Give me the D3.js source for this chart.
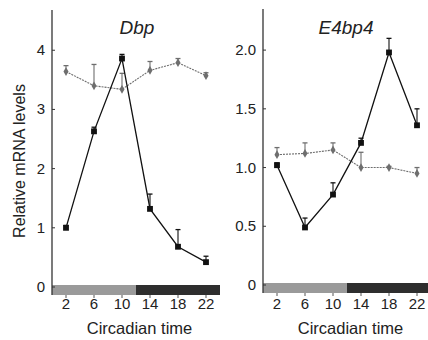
<!DOCTYPE html>
<html>
<head>
<meta charset="utf-8">
<script src="https://cdn.jsdelivr.net/npm/d3@7"></script>
<style>
  body { margin: 0; background: #fff; }
  svg { display: block; font-family: "Liberation Sans", Arial, sans-serif; }
</style>
</head>
<body>
<div id="chart"></div>
<script>
// circadian time points
var times = [2, 6, 10, 14, 18, 22];

// Dbp panel
var dbpTitle = "Dbp";
var dbpTicks = [0, 1, 2, 3, 4];
var dbpBlack = [1.0, 2.63, 3.86, 1.32, 0.68, 0.42];
var dbpBlackErr = [1.04, 2.70, 3.93, 1.57, 0.97, 0.52];
var dbpGrey = [3.64, 3.40, 3.34, 3.66, 3.79, 3.57];
var dbpGreyErr = [3.74, 3.76, 3.61, 3.81, 3.86, 3.62];

// E4bp4 panel
var e4Title = "E4bp4";
var e4Ticks = [0, 0.5, 1.0, 1.5, 2.0];
var e4TickLabels = ["0", "0.5", "1.0", "1.5", "2.0"];
var e4Black = [1.02, 0.49, 0.77, 1.21, 1.98, 1.36];
var e4BlackErr = [1.04, 0.57, 0.87, 1.25, 2.10, 1.50];
var e4Grey = [1.11, 1.12, 1.15, 1.00, 1.00, 0.95];
var e4GreyErr = [1.17, 1.21, 1.21, 1.13, 1.01, 1.00];

var xTicks = [2, 6, 10, 14, 18, 22];

var svg = d3.select("#chart").append("svg")
  .attr("width", 428)
  .attr("height", 340);

function panel(opt) {
  var x = d3.scaleLinear().domain([0, 24]).range([opt.left, opt.left + 168]);
  var y = d3.scaleLinear().domain([0, opt.top]).range([opt.zeroY, opt.topY]);
  var g = svg.append("g");

  // light/dark bar at zero
  var bars = [{ a: 0, b: 12, c: "#9a9a9a" }, { a: 12, b: 24, c: "#2e2e2e" }];
  g.selectAll("rect.ld").data(bars).enter().append("rect")
    .attr("class", "ld")
    .attr("x", function (d) { return x(d.a); })
    .attr("width", function (d) { return x(d.b) - x(d.a); })
    .attr("y", y(0) - 2)
    .attr("height", 10)
    .attr("fill", function (d) { return d.c; });

  // y axis line + ticks
  g.append("line")
    .attr("x1", x(0)).attr("x2", x(0))
    .attr("y1", y(opt.top)).attr("y2", y(0) + 8)
    .attr("stroke", "#333").attr("stroke-width", 1.3);
  g.selectAll("line.yt").data(opt.ticks).enter().append("line")
    .attr("class", "yt")
    .attr("x1", x(0)).attr("x2", x(0) + 3)
    .attr("y1", function (d) { return y(d); })
    .attr("y2", function (d) { return y(d); })
    .attr("stroke", "#333");
  g.selectAll("text.yl").data(opt.ticks).enter().append("text")
    .attr("class", "yl")
    .attr("x", x(0) - 7)
    .attr("y", function (d) { return y(d) + 5; })
    .attr("text-anchor", "end")
    .attr("font-size", 15)
    .attr("fill", "#222")
    .text(function (d, i) { return opt.labels ? opt.labels[i] : d; });

  // x ticks and labels
  g.selectAll("line.xt").data(xTicks).enter().append("line")
    .attr("class", "xt")
    .attr("x1", function (d) { return x(d); })
    .attr("x2", function (d) { return x(d); })
    .attr("y1", y(0) + 8).attr("y2", y(0) + 11)
    .attr("stroke", "#555");
  g.selectAll("text.xl").data(xTicks).enter().append("text")
    .attr("class", "xl")
    .attr("x", function (d) { return x(d); })
    .attr("y", 309)
    .attr("text-anchor", "middle")
    .attr("font-size", 15)
    .attr("fill", "#222")
    .text(function (d) { return d; });
  g.append("text")
    .attr("x", x(12.5))
    .attr("y", 334)
    .attr("text-anchor", "middle")
    .attr("font-size", 16.5)
    .attr("fill", "#222")
    .text("Circadian time");

  // title
  g.append("text")
    .attr("x", opt.titleX)
    .attr("y", 34)
    .attr("text-anchor", "middle")
    .attr("font-size", 19)
    .attr("font-style", "italic")
    .attr("fill", "#222")
    .text(opt.title);

  var line = d3.line()
    .x(function (d) { return x(d.t); })
    .y(function (d) { return y(d.v); });

  function series(vals, errs, color, width, dash, shape, size) {
    var data = times.map(function (t, i) { return { t: t, v: vals[i], e: errs[i] }; });
    g.append("path").datum(data)
      .attr("d", line)
      .attr("fill", "none")
      .attr("stroke", color)
      .attr("stroke-width", width)
      .attr("stroke-dasharray", dash);
    var eb = g.selectAll(null).data(data).enter().append("g");
    eb.append("line")
      .attr("x1", function (d) { return x(d.t); })
      .attr("x2", function (d) { return x(d.t); })
      .attr("y1", function (d) { return y(d.v); })
      .attr("y2", function (d) { return y(d.e); })
      .attr("stroke", color).attr("stroke-width", 1.1);
    eb.append("line")
      .attr("x1", function (d) { return x(d.t) - 2.5; })
      .attr("x2", function (d) { return x(d.t) + 2.5; })
      .attr("y1", function (d) { return y(d.e); })
      .attr("y2", function (d) { return y(d.e); })
      .attr("stroke", color).attr("stroke-width", 1.3);
    g.selectAll(null).data(data).enter().append("path")
      .attr("transform", function (d) { return "translate(" + x(d.t) + "," + y(d.v) + ")"; })
      .attr("d", d3.symbol().type(shape).size(size))
      .attr("fill", color);
  }

  series(opt.grey, opt.greyErr, "#6e6e6e", 1.1, "2,1", d3.symbolDiamond, 22);
  series(opt.black, opt.blackErr, "#111", 1.3, null, d3.symbolSquare, 34);
}

panel({
  left: 52, zeroY: 287, topY: 10, top: 4.68,
  ticks: dbpTicks, title: dbpTitle, titleX: 137,
  black: dbpBlack, blackErr: dbpBlackErr, grey: dbpGrey, greyErr: dbpGreyErr
});

panel({
  left: 263, zeroY: 285, topY: 9, top: 2.35,
  ticks: e4Ticks, labels: e4TickLabels, title: e4Title, titleX: 346,
  black: e4Black, blackErr: e4BlackErr, grey: e4Grey, greyErr: e4GreyErr
});

// shared y axis label
svg.append("text")
  .attr("transform", "translate(25,161) rotate(-90)")
  .attr("text-anchor", "middle")
  .attr("font-size", 16)
  .attr("fill", "#222")
  .text("Relative mRNA levels");
</script>
</body>
</html>
